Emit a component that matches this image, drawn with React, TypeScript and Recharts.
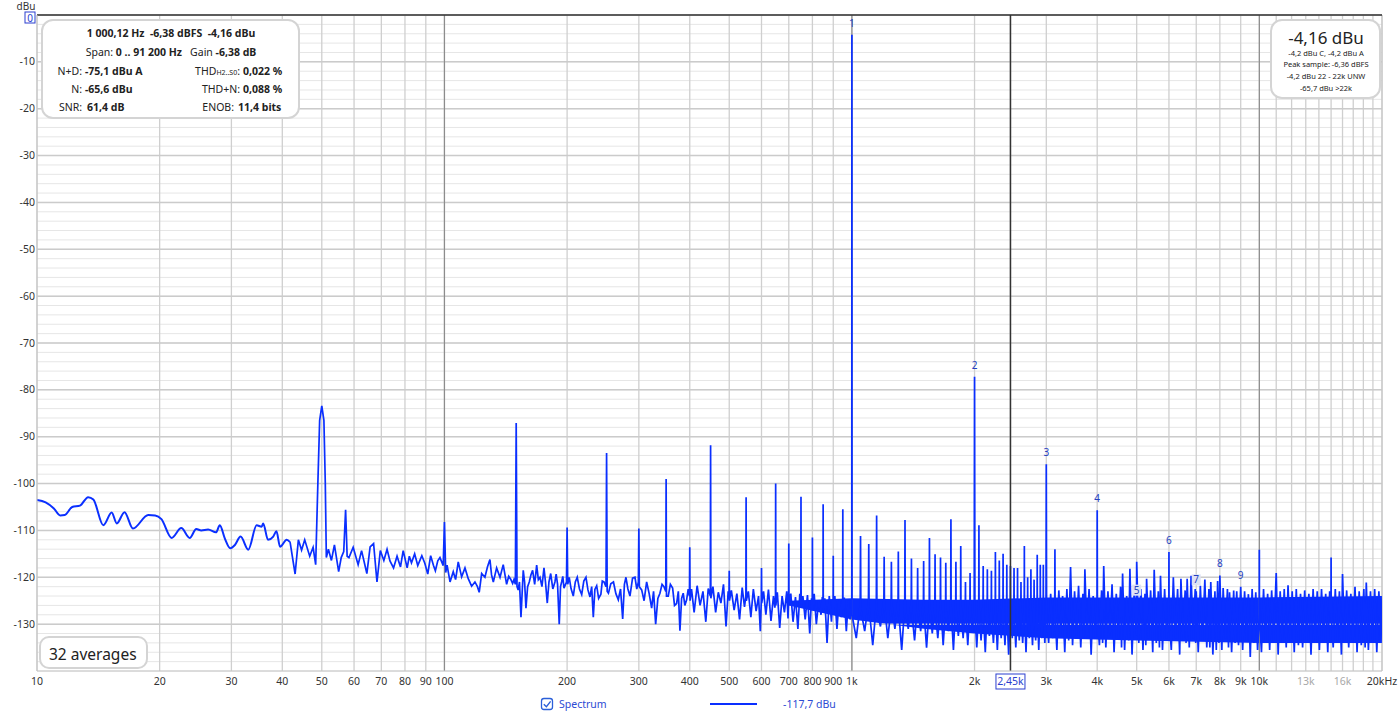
import React from 'react';
import {
  ComposedChart, Line, Area, Scatter, XAxis, YAxis, CartesianGrid, ReferenceLine,
} from 'recharts';

type Row = [number, number];

const FONT = '"Segoe UI", "Noto Sans", sans-serif';
const BLUE = '#0a2fff';
const LABEL_BLUE = '#2340c0';

// smooth low-frequency part of the trace, 10 Hz .. 42 Hz  [Hz, dBu]
const lowTrace: Row[] = [
  [10, -103.5], [10.5, -104], [11, -105.3], [11.4, -106.8], [11.7, -106.7], [12.2, -105],
  [12.75, -104.7], [13.35, -102.9], [13.75, -103.4], [14.55, -108.9], [15.25, -106.2],
  [15.7, -108.5], [16.4, -106.1], [17.2, -109.6], [18.75, -106.7], [19.5, -106.8],
  [20.2, -107.6], [21.4, -111.6], [22.6, -109.5], [23.7, -111.6], [24.6, -109.7],
  [25.3, -110], [26.3, -109.8], [27.5, -110.4], [28.1, -108.9], [28.9, -111.7],
  [29.8, -113.8], [30.6, -113.1], [31.6, -111.3], [33, -114.1], [34.6, -108.9],
  [35.6, -109.2], [35.9, -108.5], [36.9, -112], [38, -111.3], [38.7, -110.2],
  [39.5, -113.5], [41, -112], [41.8, -112.5],
];

// mains hum region, 42 Hz .. 103 Hz
const humTrace: Row[] = [
  [41.8, -112.5], [43, -119.3], [43.8, -112], [44.6, -114.2], [45.4, -112], [46.7, -115.5],
  [47.6, -113.6], [48.3, -117.3], [48.9, -100], [49.4, -86.5], [50, -83.4], [50.6, -86.5],
  [51, -100], [51.3, -115.8], [51.9, -114], [52.8, -116.4], [53.7, -113.1], [55, -118.8],
  [55.8, -115.8], [56.6, -114.5], [57.2, -105.6], [57.7, -115.5], [58.3, -115.8],
  [59.7, -113.6], [61.4, -117.3], [62.6, -114.3], [64.5, -119.2], [65.7, -113.5],
  [67, -112.8], [68.3, -121], [69.6, -114.3], [71, -116.4], [72.3, -114], [73.5, -116.5],
  [75, -118], [76.5, -115.5], [78, -117.8], [79.2, -114.3], [81, -118], [82, -115.5],
  [83, -116.9], [84.5, -115], [86, -117.5], [88, -115.4], [89.5, -117], [91, -119.3],
  [92.5, -115.4], [94, -117.5], [95, -118.6], [96.3, -116.5], [97.5, -115.8],
  [99.3, -117.5], [100, -108.2], [100.7, -119], [101.5, -117.4], [103.2, -121],
];

// 103 Hz .. 400 Hz
const midTrace: Row[] = [
  [105.1, -118.8], [106.5, -120.5], [108.1, -116.7], [110.2, -119.9], [112.3, -118],
  [114.4, -120.3], [116.6, -121.9], [118.8, -121], [120.5, -122], [121.7, -123.2],
  [123.4, -119.2], [125.7, -120], [127.5, -117.8], [129.3, -116.2], [130.5, -119.5],
  [131.8, -121], [134.3, -118], [136.9, -120], [139.4, -117.3], [140.8, -119.5],
  [142.1, -121.5], [143.8, -119.8], [145.4, -120.4], [147, -121.3], [148.1, -120.5],
  [149.3, -121.5], [150, -87.1], [150.7, -122], [151.7, -122.7], [152.8, -121],
  [154.1, -128.5], [156.1, -118.5], [157.3, -121], [158.5, -126.6], [160, -122],
  [161.5, -121], [163, -119.5], [164.6, -118.5], [166.5, -121.5], [168.4, -117.4],
  [170, -120.5], [171.6, -120], [173.5, -122], [175.5, -118], [177, -121], [178.8, -125.5],
  [180.5, -121], [182.3, -119.2], [184.5, -122.5], [186.7, -121], [188, -119.3],
  [189.5, -121.5], [191.3, -130], [192.7, -122], [193.9, -121], [195.2, -119.8],
  [196.5, -122.3], [199.3, -121], [200, -109.4], [200.7, -121.5], [202.4, -120],
  [204.5, -122.4], [207.1, -124], [209.5, -121], [211.8, -120], [214.5, -122.5],
  [217.2, -123.7], [219.8, -120.8], [222.5, -120], [225, -122.7], [227.6, -124.2],
  [229.8, -122], [231.9, -128.5], [234, -122.6], [236.4, -121.8], [239, -124.5],
  [242.1, -123.6], [244, -120.8], [246.3, -121], [249.2, -122], [250, -93.5], [250.8, -123],
  [252.6, -123.4], [256, -121.4], [259.9, -121], [263.5, -123.5], [267.1, -124.8],
  [270.5, -122.5], [273.8, -128.9], [276.5, -121.5], [278.9, -120], [282, -122.5],
  [285.3, -124], [289.5, -120.2], [293.5, -120], [296.5, -122.5], [299.2, -121],
  [300, -109.6], [300.8, -122], [304.8, -122.7], [309, -125], [313.5, -121], [318, -123.5],
  [322.5, -126.6], [326, -123], [329.9, -130], [334, -124.5], [338, -123.4], [342, -121.5],
  [345.7, -122], [349.3, -123], [350, -99], [350.7, -124], [354.2, -124], [358.5, -121.5],
  [363.1, -122.3], [367, -126], [371.4, -125.6], [375, -123], [378.4, -131.4],
  [382, -124.5], [385.5, -123.4], [389, -126], [393, -124.8], [396.5, -122.5],
  [399.3, -124], [400, -113.6], [400.7, -125],
];

// 400 Hz .. 1 kHz (fundamental)
const upperMidTrace: Row[] = [
  [404, -122.5], [410, -127.5], [417, -121.8], [424, -126], [431, -123], [438, -129.5],
  [444, -122.4], [449.3, -124], [450, -91.8], [450.7, -124.5], [456, -122], [463, -127.5],
  [470, -123.2], [477, -125.5], [484, -121.5], [491, -130.5], [497, -123], [499.3, -124],
  [500, -118.6], [500.7, -125], [506, -122.8], [514, -127], [522, -123.5], [530, -129],
  [538, -122.2], [545, -126.3], [549.3, -124], [550, -102.9], [550.7, -125], [557, -123],
  [565, -128.5], [573, -122.5], [582, -127.2], [590, -124], [596, -131.5], [599.3, -125],
  [600, -118], [600.7, -125.5], [607, -123], [615, -128], [624, -122.6], [633, -129.3],
  [642, -124], [647, -126.5], [649.3, -125], [650, -100], [650.7, -126], [656, -123.2],
  [665, -130.8], [674, -124], [683, -127.5], [692, -123], [697, -128.8], [699.3, -125],
  [700, -112.8], [700.7, -126], [708, -123.5], [717, -129.5], [727, -124.2], [737, -131],
  [745, -123.5], [749.3, -125.5], [750, -102.8], [750.7, -126.5], [758, -124], [768, -129],
  [778, -123.8], [788, -132], [796, -124.5], [799.3, -126], [800, -111.5], [800.7, -127],
  [808, -123.5], [818, -130], [829, -125], [840, -128], [846, -124.2], [849.3, -126],
  [850, -104.4], [850.7, -127], [858, -124.5], [869, -134], [880, -124], [891, -129.5],
  [896, -125], [899.3, -126.5], [900, -115.4], [900.7, -127.5], [908, -124], [919, -131],
  [930, -124.8], [941, -128.5], [946, -125], [949.3, -127], [950, -105.5], [950.7, -127],
  [958, -124.3], [969, -131.5], [980, -125], [990, -129], [996, -126], [999.3, -128],
  [1000, -4.2], [1000.7, -128],
];

// 1 kHz .. 3 kHz, hum comb every 50 Hz
const kiloTrace: Row[] = [
  [1025, -133],
  [1048, -126], [1050, -111.2], [1052, -127], [1075, -131.5],
  [1098, -125.5], [1100, -112.9], [1102, -126.5], [1125, -134.5],
  [1148, -126], [1150, -106.8], [1152, -127], [1175, -130.5],
  [1198, -125], [1200, -115.6], [1202, -126], [1225, -133],
  [1248, -126.5], [1250, -116.7], [1252, -125.5], [1275, -131],
  [1298, -125], [1300, -114.5], [1302, -127], [1325, -135.5],
  [1348, -126], [1350, -107.8], [1352, -126.5], [1375, -131],
  [1398, -125.5], [1400, -116], [1402, -127], [1425, -133.5],
  [1448, -126], [1450, -118], [1452, -126.5], [1475, -131.5],
  [1498, -125], [1500, -116.5], [1502, -127], [1525, -135],
  [1548, -126.5], [1550, -111.6], [1552, -126], [1575, -132],
  [1598, -125.5], [1600, -115.1], [1602, -127], [1625, -133],
  [1648, -126], [1650, -115.8], [1652, -125.5], [1675, -134.5],
  [1698, -126.5], [1700, -116.9], [1702, -127], [1725, -131.5],
  [1748, -126], [1750, -107.6], [1752, -126.5], [1775, -135.5],
  [1798, -125.5], [1800, -116.7], [1802, -127], [1825, -132.5],
  [1848, -126], [1850, -113.3], [1852, -126], [1875, -133],
  [1898, -125.5], [1900, -121], [1902, -127], [1925, -134.5],
  [1948, -126], [1950, -119.1], [1952, -126.5], [1975, -131.5],
  [1996, -127], [2000, -77.2], [2004, -127.5], [2025, -135],
  [2048, -126.5], [2050, -108.9], [2052, -127], [2075, -133.5],
  [2098, -126], [2100, -117.6], [2102, -127.5], [2125, -136],
  [2148, -126.5], [2150, -118.3], [2152, -127], [2175, -132.5],
  [2198, -126], [2200, -118.6], [2202, -127.5], [2225, -134],
  [2248, -126.5], [2250, -114.6], [2252, -127], [2275, -135.5],
  [2298, -126], [2300, -116.4], [2302, -127.5], [2325, -133],
  [2348, -126.5], [2350, -115], [2352, -127], [2375, -134.5],
  [2398, -126], [2400, -117.3], [2402, -127.5], [2425, -136.5],
  [2448, -126.5], [2450, -117.6], [2452, -127], [2475, -133],
  [2498, -126], [2500, -118], [2502, -127.5], [2525, -135],
  [2548, -126.5], [2550, -118], [2552, -127], [2575, -133.5],
  [2598, -126], [2600, -121], [2602, -127.5], [2625, -134],
  [2648, -126.5], [2650, -113.3], [2652, -127], [2675, -136],
  [2698, -126], [2700, -120], [2702, -127.5], [2725, -133],
  [2748, -126.5], [2750, -118.3], [2752, -127], [2775, -134.5],
  [2798, -126], [2800, -120.5], [2802, -127.5], [2825, -133.5],
  [2848, -126.5], [2850, -115.2], [2852, -127], [2875, -135.5],
  [2898, -126], [2900, -117.3], [2902, -127.5], [2925, -133],
  [2948, -126.5], [2950, -117.3], [2952, -127], [2975, -134],
  [2995, -127], [3000, -95.9], [3005, -127.5],
];

// 3 kHz .. 20 kHz noise floor
const highTrace: Row[] = [
  [3040, -134], [3075, -123.5], [3110, -133], [3146, -127], [3150, -114], [3154, -128],
  [3185, -135.5], [3220, -122.8], [3255, -132], [3290, -124], [3330, -136], [3370, -122.5],
  [3405, -133.5], [3441, -117.8], [3480, -134.5], [3520, -123], [3560, -132.5],
  [3600, -121.8], [3645, -135], [3690, -123.5], [3710, -133], [3731, -118.3], [3775, -133],
  [3820, -122.5], [3865, -136.5], [3910, -124], [3955, -133], [3995, -127], [4000, -105.7],
  [4005, -128], [4050, -134.5], [4100, -122.8], [4125, -134], [4150, -117.6], [4200, -135],
  [4250, -123], [4300, -132.5], [4350, -121.5], [4400, -136], [4455, -123.5], [4510, -133],
  [4565, -122], [4590, -135], [4617, -119.2], [4670, -135.5], [4725, -124], [4780, -133.5],
  [4812, -118.2], [4870, -136.5], [4930, -123], [4990, -132.5], [5000, -116.7],
  [5060, -134], [5120, -122.5], [5180, -135.5], [5240, -123.5], [5265, -134.5],
  [5288, -120.3], [5350, -133], [5410, -122.8], [5475, -136], [5520, -118.4], [5585, -134],
  [5650, -123], [5685, -135], [5720, -119.7], [5785, -135.5], [5855, -122.5], [5925, -133],
  [5995, -127], [6000, -114.6], [6005, -128], [6080, -135.5], [6150, -120], [6225, -133],
  [6300, -122.5], [6375, -136.5], [6420, -120.3], [6500, -133.5], [6575, -122.8],
  [6610, -134], [6650, -120.3], [6730, -135], [6800, -119.7], [6880, -133], [6960, -122.5],
  [6980, -134], [7000, -123], [7080, -136], [7165, -121.8], [7250, -133.5], [7350, -120.5],
  [7430, -135], [7520, -122.5], [7560, -135], [7600, -121], [7690, -136.5], [7780, -123],
  [7840, -135.5], [7900, -120.8], [7960, -134], [8000, -119.6], [8090, -135.5],
  [8150, -122.3], [8250, -133], [8350, -122.5], [8400, -135], [8450, -123.2], [8550, -136],
  [8650, -122.8], [8720, -134], [8800, -123], [8890, -134.5], [9000, -122], [9100, -135.5],
  [9200, -123], [9300, -133.5], [9400, -123.6], [9500, -137], [9600, -122.5], [9700, -134],
  [9800, -123.2], [9900, -135.5], [9995, -128], [10000, -114.1], [10005, -128],
  [10120, -136], [10240, -122.5], [10360, -134], [10480, -123.5], [10600, -135.5],
  [10720, -122.8], [10850, -133.5], [11000, -119.1], [11120, -136.5], [11250, -123],
  [11380, -134], [11510, -122.5], [11640, -135], [11760, -121.7], [11900, -133.5],
  [12040, -123], [12180, -136], [12320, -122.5], [12470, -134.5], [12620, -123.5],
  [12770, -135], [12920, -122.8], [13070, -133.5], [13230, -123.5], [13390, -136.5],
  [13550, -122.5], [13710, -134], [13870, -123], [14040, -135.5], [14210, -122.5],
  [14380, -133.5], [14550, -123.5], [14720, -136], [14880, -123], [14990, -128],
  [15000, -115.8], [15010, -128], [15180, -135], [15360, -122.5], [15540, -134],
  [15720, -123], [15900, -136.5], [16000, -119.3], [16190, -133.5], [16380, -122.8],
  [16570, -135], [16770, -123.5], [16970, -134], [17170, -122], [17370, -136],
  [17580, -123], [17790, -134.5], [18050, -122.5], [18180, -135], [18300, -121.1],
  [18520, -135.5], [18740, -123], [18960, -134], [19190, -122.5], [19420, -136],
  [19650, -123], [19880, -134], [20000, -124],
];

// dense core of the noise floor
const noiseFloorHz = [700, 1000, 1500, 2000, 3000, 5000, 10000, 20000];
const noiseFloorLow = [-126, -129, -131, -132, -133, -133.5, -134, -134];
const noiseFloorHigh = [-125, -124.5, -124.8, -124.8, -124.3, -124.3, -124.3, -124];

// harmonic markers
const harmonicNo = [1, 2, 3, 4, 5, 6, 7, 8, 9];
const harmonicHz = [1000, 2000, 3000, 4000, 5000, 6000, 7000, 8000, 9000];
const harmonicDb = [-4.2, -77.2, -95.9, -105.7, -125.2, -114.6, -123, -119.6, -122];
const harmonicBoxed = [false, false, false, false, true, false, true, false, false];

const freqTicks = [
  10, 20, 30, 40, 50, 60, 70, 80, 90, 100, 200, 300, 400, 500, 600, 700, 800, 900,
  1000, 2000, 2450, 3000, 4000, 5000, 6000, 7000, 8000, 9000, 10000, 11000, 12000,
  13000, 14000, 15000, 16000, 17000, 18000, 19000, 20000,
];
const freqTickLabels = [
  '10', '20', '30', '40', '50', '60', '70', '80', '90', '100', '200', '300', '400', '500',
  '600', '700', '800', '900', '1k', '2k', '2,45k', '3k', '4k', '5k', '6k', '7k', '8k', '9k',
  '10k', '', '', '13k', '', '', '16k', '', '', '', '20kHz',
];
const dimFreqLabels = ['13k', '16k'];

const dbTicks = [
  0, -2, -4, -6, -8, -10, -12, -14, -16, -18, -20, -22, -24, -26, -28, -30, -32, -34, -36,
  -38, -40, -42, -44, -46, -48, -50, -52, -54, -56, -58, -60, -62, -64, -66, -68, -70, -72,
  -74, -76, -78, -80, -82, -84, -86, -88, -90, -92, -94, -96, -98, -100, -102, -104, -106,
  -108, -110, -112, -114, -116, -118, -120, -122, -124, -126, -128, -130, -132, -134, -136,
  -138, -140,
];
const dbMajor = [0, -10, -20, -30, -40, -50, -60, -70, -80, -90, -100, -110, -120, -130];
const decadeLines = [100, 1000, 10000];

const toPoints = (rows: Row[]) => rows.map(([hz, db]) => ({ hz, db }));

const FreqTick = (props: any) => {
  const { x, y, payload } = props;
  const i = freqTicks.indexOf(payload.value);
  const label = i >= 0 ? freqTickLabels[i] : '';
  if (!label) return <g />;
  if (payload.value === 2450) {
    return (
      <g>
        <rect x={x - 14.5} y={y - 3} width={29} height={15} fill="#fff" stroke="#2b3fcf" strokeWidth={1} />
        <text x={x} y={y + 8} textAnchor="middle" fontSize={10.5} fontFamily={FONT} fill="#2b3fcf">{label}</text>
      </g>
    );
  }
  const dim = dimFreqLabels.includes(label);
  return (
    <text x={x} y={y + 8} textAnchor="middle" fontSize={10.5} fontFamily={FONT} fill={dim ? '#a8a8a8' : '#333'}>
      {label}
    </text>
  );
};

const DbTick = (props: any) => {
  const { x, y, payload } = props;
  const v = payload.value;
  if (v === 0) {
    return (
      <g>
        <rect x={x - 10} y={y - 3} width={10} height={11} fill="#fff" stroke="#2b3fcf" strokeWidth={1} />
        <text x={x - 5} y={y + 6.5} textAnchor="middle" fontSize={10} fontFamily={FONT} fill="#2b3fcf">0</text>
      </g>
    );
  }
  if (!dbMajor.includes(v)) return <g />;
  return (
    <text x={x} y={y + 3.5} textAnchor="end" fontSize={10.5} fontFamily={FONT} fill="#333">{v}</text>
  );
};

const HarmonicMark = (props: any) => {
  const { cx, cy, payload } = props;
  if (cx == null || cy == null) return <g />;
  return (
    <g>
      {payload.boxed && <rect x={cx - 4.5} y={cy - 17} width={9} height={11} fill="#dde2f4" />}
      <text x={cx} y={cy - 8} textAnchor="middle" fontSize={10} fontFamily={FONT} fill={LABEL_BLUE}>
        {payload.n}
      </text>
    </g>
  );
};

export default function App() {
  const smooth = toPoints(lowTrace);
  const spectrum = toPoints([...humTrace, ...midTrace, ...upperMidTrace, ...kiloTrace, ...highTrace]);
  const floor = noiseFloorHz.map((hz, i) => ({ hz, band: [noiseFloorLow[i], noiseFloorHigh[i]] }));
  const marks = harmonicHz.map((hz, i) => ({
    hz, db: harmonicDb[i], n: harmonicNo[i], boxed: harmonicBoxed[i],
  }));

  return (
    <div style={{ position: 'absolute', left: 0, top: 0, width: 1400, height: 715, background: '#fff', fontFamily: FONT }}>
      <ComposedChart width={1400} height={715} margin={{ top: 15, right: 18, bottom: 14, left: 0 }}>
        <CartesianGrid horizontal vertical={false} stroke="#e6e6e6" />
        <CartesianGrid horizontal={false} vertical stroke="#cfcfcf" strokeWidth={1.3} />
        <XAxis
          dataKey="hz" type="number" scale="log" domain={[10, 20000]} ticks={freqTicks}
          interval={0} allowDataOverflow tick={(p: any) => <FreqTick {...p} />}
          tickLine={false} tickSize={0} tickMargin={6} height={30} axisLine={{ stroke: '#c4c4c4' }}
        />
        <YAxis
          type="number" domain={[-140, 0]} ticks={dbTicks} interval={0} allowDataOverflow
          tick={(p: any) => <DbTick {...p} />} width={37} tickLine={false} tickSize={0}
          tickMargin={2} axisLine={{ stroke: '#c4c4c4' }}
        />
        {dbMajor.map((v) => (
          <ReferenceLine key={`h${v}`} y={v} stroke="#cbcbcb" strokeWidth={1.5} />
        ))}
        {decadeLines.map((v) => (
          <ReferenceLine key={`d${v}`} x={v} stroke="#8c8c8c" strokeWidth={1.2} />
        ))}
        <ReferenceLine x={20000} stroke="#c4c4c4" />
        <Area
          data={floor} dataKey="band" type="linear" stroke="none" fill={BLUE} fillOpacity={1}
          isAnimationActive={false}
        />
        <Line
          data={smooth} dataKey="db" type="monotone" stroke={BLUE} strokeWidth={2} dot={false}
          isAnimationActive={false}
        />
        <Line
          data={spectrum} dataKey="db" type="linear" stroke={BLUE} strokeWidth={1.7} dot={false}
          isAnimationActive={false}
        />
        <Scatter data={marks} dataKey="db" shape={(p: any) => <HarmonicMark {...p} />} isAnimationActive={false} />
        <ReferenceLine x={2450} stroke="#333" strokeWidth={1.5} />
        <ReferenceLine y={0} stroke="#333" strokeWidth={1.5} />
      </ComposedChart>

      <svg
        width={1400} height={715} fontFamily={FONT}
        style={{ position: 'absolute', left: 0, top: 0, pointerEvents: 'none' }}
      >
        <text x={26} y={10} fontSize={10} textAnchor="middle" fill="#333">dBu</text>

        <rect x={42} y={20} width={257} height={98} rx={11} fill="#fff" stroke="#d4d4d4" strokeWidth={2} />
        <text x={171} y={37} textAnchor="middle" fontSize={10.5} fontWeight={700} fill="#222" style={{ whiteSpace: 'pre' }}>
          1 000,12 Hz  -6,38 dBFS  -4,16 dBu
        </text>
        <text x={171} y={56} textAnchor="middle" fontSize={10.5} fill="#222" style={{ whiteSpace: 'pre' }}>
          Span: <tspan fontWeight={700}>0 .. 91 200 Hz</tspan>   Gain <tspan fontWeight={700}>-6,38 dB</tspan>
        </text>
        <text x={82} y={74.5} textAnchor="end" fontSize={10.5} fill="#222">N+D:</text>
        <text x={85} y={74.5} fontSize={10.5} fontWeight={700} fill="#222">-75,1 dBu A</text>
        <text x={240} y={74.5} textAnchor="end" fontSize={10.5} fill="#222">
          THD<tspan fontSize={7}>H2..S0</tspan>:
        </text>
        <text x={243} y={74.5} fontSize={10.5} fontWeight={700} fill="#222">0,022 %</text>
        <text x={82} y={93} textAnchor="end" fontSize={10.5} fill="#222">N:</text>
        <text x={85} y={93} fontSize={10.5} fontWeight={700} fill="#222">-65,6 dBu</text>
        <text x={240} y={93} textAnchor="end" fontSize={10.5} fill="#222">THD+N:</text>
        <text x={243} y={93} fontSize={10.5} fontWeight={700} fill="#222">0,088 %</text>
        <text x={82} y={111} textAnchor="end" fontSize={10.5} fill="#222">SNR:</text>
        <text x={87} y={111} fontSize={10.5} fontWeight={700} fill="#222">61,4 dB</text>
        <text x={234} y={111} textAnchor="end" fontSize={10.5} fill="#222">ENOB:</text>
        <text x={238} y={111} fontSize={10.5} fontWeight={700} fill="#222">11,4 bits</text>

        <rect x={1271} y={20} width={109} height={78} rx={11} fill="#fff" stroke="#d4d4d4" strokeWidth={2} />
        <text x={1326} y={44} textAnchor="middle" fontSize={17} fill="#222">-4,16 dBu</text>
        <text x={1326} y={55.5} textAnchor="middle" fontSize={7.5} fill="#222">-4,2 dBu C, -4,2 dBu A</text>
        <text x={1326} y={67} textAnchor="middle" fontSize={7.5} fill="#222">Peak sample: -6,36 dBFS</text>
        <text x={1326} y={79} textAnchor="middle" fontSize={7.5} fill="#222">-4,2 dBu 22 - 22k UNW</text>
        <text x={1326} y={90.5} textAnchor="middle" fontSize={7.5} fill="#222">-65,7 dBu &gt;22k</text>

        <rect x={40} y={637} width={107} height={31} rx={9} fill="#fff" stroke="#d4d4d4" strokeWidth={2} />
        <text x={49} y={660} fontSize={15.5} fill="#222">32 averages</text>

        <rect x={541.5} y={698.5} width={11} height={11} rx={2.5} fill="#fff" stroke="#2b5fd9" strokeWidth={1.3} />
        <path d="M543.8 704.2 L546.4 706.8 L550.6 701.4" stroke="#2b5fd9" fill="none" strokeWidth={1.4} />
        <text x={559} y={708} fontSize={10.5} fill="#2c4bd4">Spectrum</text>
        <line x1={710} x2={757} y1={704} y2={704} stroke={BLUE} strokeWidth={2} />
        <text x={783} y={708} fontSize={10.5} fill="#2c4bd4">-117,7 dBu</text>
      </svg>
    </div>
  );
}
